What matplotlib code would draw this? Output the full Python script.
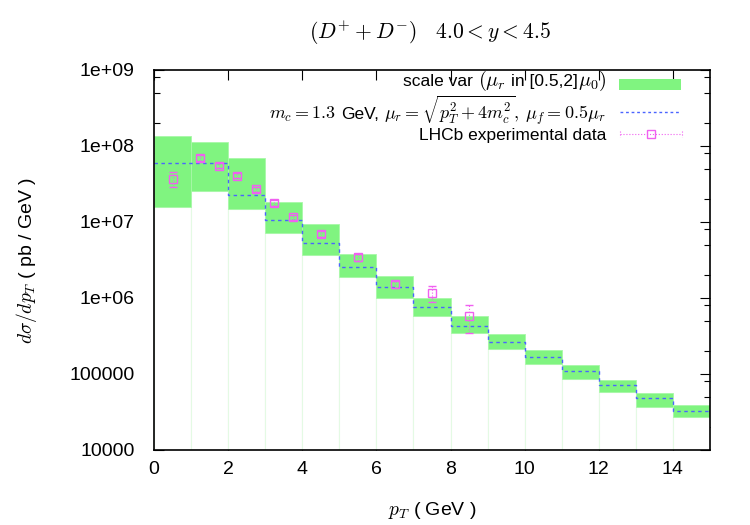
import numpy as np
import matplotlib
matplotlib.use('Agg')
import matplotlib.pyplot as plt
from matplotlib.lines import Line2D
from matplotlib.patches import Rectangle
from matplotlib.ticker import FixedLocator, FixedFormatter, NullFormatter

plt.rcParams['font.family'] = ['Liberation Sans', 'DejaVu Sans']
plt.rcParams['mathtext.fontset'] = 'cm'

# theory bins in pT (GeV)
bin_lo = [0, 1, 2, 3, 4, 5, 6, 7, 8, 9, 10, 11, 12, 13, 14]
band_hi = [1.35e8, 1.13e8, 6.95e7, 1.85e7, 9.3e6, 3.79e6, 1.95e6, 1.01e6,
           5.8e5, 3.36e5, 2.07e5, 1.30e5, 8.4e4, 5.68e4, 3.87e4]
band_lo = [1.58e7, 2.58e7, 1.48e7, 7.1e6, 3.68e6, 1.87e6, 1.01e6, 5.86e5,
           3.46e5, 2.13e5, 1.35e5, 8.67e4, 5.87e4, 3.72e4, 2.74e4]
central = [5.9e7, 5.9e7, 2.27e7, 1.05e7, 5.3e6, 2.53e6, 1.38e6, 7.55e5,
           4.33e5, 2.66e5, 1.66e5, 1.08e5, 7.1e4, 4.79e4, 3.29e4]

# LHCb data
data_x = [0.5, 1.25, 1.75, 2.25, 2.75, 3.25, 3.75, 4.5, 5.5, 6.5, 7.5, 8.5]
data_y = [3.65e7, 6.95e7, 5.5e7, 4.07e7, 2.69e7, 1.78e7, 1.15e7, 7.0e6,
          3.43e6, 1.51e6, 1.15e6, 5.86e5]
data_up = [4.59e7, 7.5e7, 5.9e7, 4.4e7, 2.9e7, 1.92e7, 1.24e7, 7.6e6,
           3.75e6, 1.68e6, 1.45e6, 8.1e5]
data_dn = [2.86e7, 6.4e7, 5.1e7, 3.75e7, 2.48e7, 1.64e7, 1.06e7, 6.4e6,
           3.1e6, 1.34e6, 8.9e5, 3.43e5]

# key entries, split into text / math pieces (math is set larger, like epslatex)
key_row1 = ['scale var', ' ', r'$(\mu_r$', ' ', 'in [0.5,2]', r'$\mu_0)$']
key_row2 = [r'$m_c = 1.3$', ' ', 'GeV,', ' ', r'$\mu_r = \sqrt{p_T^2 + 4m_c^2},\;\mu_f = 0.5\mu_r$']
key_row3 = ['LHCb experimental data']

green = '#80f480'
blue = '#4a64ff'
magenta = '#f060f0'
ymin, ymax = 1e4, 1e9

fig = plt.figure(figsize=(7.5, 5.25), dpi=100)
ax = fig.add_axes([154/750, 1-450/525, 556/750, 380/525])

lo = np.array(band_lo)
hi = np.array(band_hi)
# white boxes under the band (gnuplot boxes)
ax.bar(bin_lo, lo - ymin, width=1, bottom=ymin, align='edge',
       facecolor='white', edgecolor='#e4fae4', linewidth=0.8, zorder=3)
ax.bar(bin_lo, hi - lo, width=1, bottom=lo, align='edge',
       facecolor=green, edgecolor='#a8f8a8', linewidth=0.6, zorder=3.5)

edges = list(bin_lo) + [bin_lo[-1] + 1]
ax.step(edges, list(central) + [central[-1]], where='post', color=blue,
        lw=1.0, ls=(0, (2.5, 2.5)), zorder=4)

yerr = [np.array(data_y) - np.array(data_dn), np.array(data_up) - np.array(data_y)]
eb = ax.errorbar(data_x, data_y, yerr=yerr, fmt='s', ms=6, mfc='none', mec=magenta,
                 mew=1.0, ecolor=magenta, elinewidth=0.8, capsize=3, capthick=0.8,
                 zorder=5)
for l in eb[2]:
    l.set_linestyle(':')

ax.set_yscale('log')
ax.set_xlim(0, 15)
ax.set_ylim(ymin, ymax)

ax.xaxis.set_major_locator(FixedLocator([0, 2, 4, 6, 8, 10, 12, 14]))
ax.yaxis.set_major_locator(FixedLocator([1e4, 1e5, 1e6, 1e7, 1e8, 1e9]))
ax.yaxis.set_major_formatter(FixedFormatter(['10000', '100000', '1e+06', '1e+07', '1e+08', '1e+09']))
minors = [m * 10.0**k for k in range(4, 9) for m in (2, 5, 8)]
ax.yaxis.set_minor_locator(FixedLocator(minors))
ax.yaxis.set_minor_formatter(NullFormatter())
ax.tick_params(which='both', direction='in', top=True, right=True, labelsize=14)
ax.tick_params(axis='y', pad=14)
ax.tick_params(axis='x', pad=8)
ax.tick_params(which='major', length=7, width=0.8)
ax.tick_params(which='minor', length=4, width=0.8)
for s in ax.spines.values():
    s.set_zorder(6)
    s.set_linewidth(1.2)

ax.set_xlabel(r'$p_T$ ( GeV )', fontsize=14, labelpad=16)
ax.set_ylabel(r'$d\sigma/dp_T$ ( pb / GeV )', fontsize=14, labelpad=22)
fig.text(430/750, 1-33/525, r'$(D^{+} + D^{-})\quad 4.0 < y < 4.5$', fontsize=15.5,
         ha='center', va='center')

# gnuplot style key: text right-justified, sample on the right
def fx(px):
    return px / 750

def fy(py):
    return 1 - py / 525

renderer = fig.canvas.get_renderer()

def key_text(pieces, x_right, y_base, text_size=12.5, math_size=14.5, space=5):
    x = x_right
    for p in reversed(pieces):
        if p == ' ':
            x -= space
            continue
        size = math_size if p.startswith('$') else text_size
        t = fig.text(fx(x), fy(y_base), p, fontsize=size, ha='right', va='baseline', zorder=8)
        x -= t.get_window_extent(renderer).width

key_text(key_row1, 606, 86)
key_text(key_row2, 606, 119, math_size=13)
key_text(key_row3, 606, 140)

fig.add_artist(Rectangle((fx(619), fy(90)), fx(62), 11/525, facecolor=green,
                         edgecolor='none', zorder=8))
fig.add_artist(Line2D([fx(620), fx(680)], [fy(112)] * 2, color=blue, lw=1.0,
                      ls=(0, (2, 2)), zorder=8))
fig.add_artist(Line2D([fx(620), fx(682)], [fy(134)] * 2, color=magenta, lw=0.8,
                      ls=':', zorder=8))
fig.add_artist(Line2D([fx(651)], [fy(134)], color=magenta, marker='s', ms=6,
                      mfc='none', mec=magenta, mew=1.0, ls='none', zorder=8))
for px in (620, 682):
    fig.add_artist(Line2D([fx(px)] * 2, [fy(131), fy(137)],
                          color=magenta, lw=0.8, ls=':', zorder=8))

fig.savefig('out.png', dpi=100)
